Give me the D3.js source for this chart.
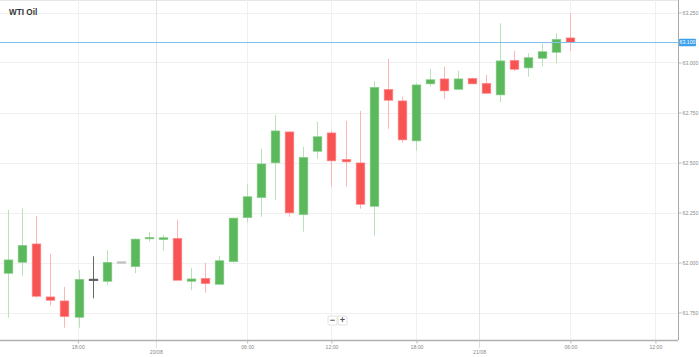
<!DOCTYPE html>
<html>
<head>
<meta charset="utf-8">
<script src="https://cdn.jsdelivr.net/npm/d3@7"></script>
<style>
  html, body { margin: 0; padding: 0; background: #fff; }
  svg { display: block; font-family: "Liberation Sans", Arial, sans-serif; }
</style>
</head>
<body>
<svg id="chart" width="699" height="357"></svg>
<script>
// ---- data (hourly candles, WTI Oil) ----
const opens  = [61.946, 62.001, 62.093, 61.828, 61.808, 61.726, 61.913, 61.906, 62.000, 61.979,
                62.118, 62.114, 62.121, 61.906, 61.921, 61.891, 62.004, 62.224, 62.324, 62.498,
                62.653, 62.239, 62.556, 62.648, 62.516, 62.498, 62.281, 62.866, 62.808, 62.608,
                62.893, 62.918, 62.866, 62.921, 62.896, 62.838, 63.011, 62.973, 63.021, 63.051,
                63.123];
const highs  = [62.263, 62.271, 62.233, 62.043, 61.878, 61.963, 62.031, 62.061, 62.000, 62.120,
                62.154, 62.138, 62.213, 61.973, 61.998, 62.033, 62.224, 62.391, 62.568, 62.738,
                62.655, 62.579, 62.703, 62.658, 62.708, 62.758, 62.908, 63.018, 62.829, 62.898,
                62.968, 62.979, 62.959, 62.925, 62.938, 63.196, 63.058, 63.046, 63.096, 63.146,
                63.246];
const lows   = [61.724, 61.933, 61.824, 61.784, 61.674, 61.674, 61.821, 61.888, 62.000, 61.946,
                62.104, 62.059, 61.910, 61.861, 61.849, 61.890, 61.999, 62.199, 62.229, 62.313,
                62.229, 62.154, 62.519, 62.379, 62.379, 62.269, 62.134, 62.668, 62.599, 62.559,
                62.879, 62.818, 62.866, 62.893, 62.846, 62.801, 62.958, 62.929, 62.981, 62.996,
                63.058];
const closes = [62.013, 62.086, 61.831, 61.811, 61.729, 61.916, 61.913, 62.001, 62.000, 62.117,
                62.126, 62.124, 61.911, 61.918, 61.894, 62.009, 62.222, 62.329, 62.493, 62.658,
                62.248, 62.526, 62.629, 62.508, 62.503, 62.291, 62.876, 62.811, 62.613, 62.888,
                62.914, 62.858, 62.918, 62.893, 62.846, 63.008, 62.966, 63.024, 63.054, 63.116,
                63.100];

// axis ticks (positions in candle-index units)
const timeTickPos    = [4.95, 17, 23, 29.05, 40, 46.05];
const timeTickLabels = ["18:00", "06:00", "12:00", "18:00", "06:00", "12:00"];
const dateTickPos    = [10.5, 33.5];
const dateTickLabels = ["20/08", "21/08"];
const priceTicks     = [61.75, 62.0, 62.25, 62.5, 62.75, 63.0, 63.25];
const title = "WTI Oil";

// ---- layout ----
const svg = d3.select("#chart");
const plotRight = 678, plotBottom = 340;

const x = d3.scaleLinear().domain([-0.59, 47.66]).range([0, plotRight]);
const y = d3.scaleLinear().domain([61.75, 63.25]).range([312.5, 12.5]);
const step = x(1) - x(0);
const bodyW = step * 0.62;

const candles = opens.map((o, i) => ({ i, o, h: highs[i], l: lows[i], c: closes[i] }));

// top border
svg.append("line").attr("x1", 0).attr("x2", plotRight).attr("y1", 0.5).attr("y2", 0.5)
  .attr("stroke", "#e6e6e6");

// horizontal grid
svg.append("g").selectAll("line").data(priceTicks).join("line")
  .attr("x1", 0).attr("x2", plotRight)
  .attr("y1", d => Math.round(y(d)) + 0.5).attr("y2", d => Math.round(y(d)) + 0.5)
  .attr("stroke", "#f0f0f0");

// vertical grid
svg.append("g").selectAll("line").data(timeTickPos).join("line")
  .attr("x1", d => Math.round(x(d)) + 0.5).attr("x2", d => Math.round(x(d)) + 0.5)
  .attr("y1", 0).attr("y2", plotBottom)
  .attr("stroke", "#f0f0f0");
svg.append("g").selectAll("line").data(dateTickPos).join("line")
  .attr("x1", d => Math.round(x(d)) + 0.5).attr("x2", d => Math.round(x(d)) + 0.5)
  .attr("y1", 0).attr("y2", plotBottom)
  .attr("stroke", "#e4e4e4");

// candles
const green = "#5cb85c", greenEdge = "#8ccf8c", greenWick = "#b8e2b8";
const red = "#f95454", redEdge = "#ff8f8f", redWick = "#ffb5b5";
function colors(d) {
  if (d.c > d.o) return { fill: green, edge: greenEdge, wick: greenWick };
  if (d.c < d.o) return { fill: red, edge: redEdge, wick: redWick };
  if (d.h > d.l) return { fill: "#555", edge: "#555", wick: "#666" };
  return { fill: "#c4c4c4", edge: "#c4c4c4", wick: "#c4c4c4" };
}

const g = svg.append("g");
const cg = g.selectAll("g.candle").data(candles).join("g").attr("class", "candle");
cg.append("line")
  .attr("x1", d => Math.round(x(d.i)) + 0.5).attr("x2", d => Math.round(x(d.i)) + 0.5)
  .attr("y1", d => y(d.h)).attr("y2", d => y(d.l))
  .attr("stroke", d => colors(d).wick).attr("stroke-width", 1);
cg.append("rect")
  .attr("x", d => Math.round(x(d.i)) + 0.5 - bodyW / 2)
  .attr("width", bodyW)
  .attr("y", d => {
    const top = y(Math.max(d.o, d.c)), bot = y(Math.min(d.o, d.c));
    return bot - top < 1.6 ? (top + bot) / 2 - 0.8 : top;
  })
  .attr("height", d => Math.max(1.6, y(Math.min(d.o, d.c)) - y(Math.max(d.o, d.c))))
  .attr("fill", d => colors(d).fill)
  .attr("stroke", d => colors(d).edge).attr("stroke-width", 0.6);

// last price line
const last = closes[closes.length - 1];
svg.append("line").attr("x1", 0).attr("x2", plotRight)
  .attr("y1", y(last)).attr("y2", y(last))
  .attr("stroke", "#7fc0ef").attr("stroke-width", 1);

// right axis
const yAxis = d3.axisRight(y).tickValues(priceTicks).tickFormat(d3.format(".3f"))
  .tickSize(3).tickPadding(1);
const ya = svg.append("g").attr("transform", `translate(${plotRight + 0.5},0)`).call(yAxis);
ya.select(".domain").attr("stroke", "#a8a8a8").attr("d", `M0,0V${plotBottom}`);
ya.selectAll(".tick line").attr("stroke", "#bbb");
ya.selectAll(".tick text").attr("fill", "#8a8a8a").attr("font-size", 5.2);

// price label
const pl = svg.append("g").attr("transform", `translate(${plotRight + 1},${y(last)})`);
pl.append("rect").attr("x", 0).attr("y", -3.8).attr("width", 17).attr("height", 7.6)
  .attr("rx", 1).attr("fill", "#3ba1ee");
pl.append("text").attr("x", 8.5).attr("y", 1.9).attr("text-anchor", "middle")
  .attr("fill", "#fff").attr("font-size", 5.2).text(d3.format(".3f")(last));

// bottom axis
const xAxis = d3.axisBottom(x).tickValues(timeTickPos)
  .tickFormat((d, i) => timeTickLabels[i]).tickSize(3).tickPadding(2);
const xa = svg.append("g").attr("transform", `translate(0,${plotBottom + 0.5})`).call(xAxis);
xa.select(".domain").attr("stroke", "#b0b0b0").attr("stroke-width", 1.5).attr("d", `M0,0H${plotRight}`);
xa.selectAll(".tick line").attr("stroke", "#bbb");
xa.selectAll(".tick text").attr("fill", "#8a8a8a").attr("font-size", 5.2);

const xd = svg.append("g").attr("transform", `translate(0,${plotBottom + 0.5})`)
  .call(d3.axisBottom(x).tickValues(dateTickPos).tickFormat((d, i) => dateTickLabels[i])
    .tickSize(8).tickPadding(2));
xd.select(".domain").remove();
xd.selectAll(".tick line").attr("stroke", "#bbb").attr("stroke-dasharray", "1,1");
xd.selectAll(".tick text").attr("fill", "#8a8a8a").attr("font-size", 5.2);

// title
svg.append("text").attr("x", 9).attr("y", 15).attr("font-size", 8.2).attr("font-weight", "bold")
  .attr("fill", "#333").text(title);

// zoom buttons
const zb = svg.append("g").attr("transform", "translate(328,316)");
[["−", 0], ["+", 10]].forEach(([t, dx]) => {
  zb.append("rect").attr("x", dx).attr("y", 0).attr("width", 9).attr("height", 9)
    .attr("rx", 1).attr("fill", "#fff").attr("stroke", "#e2e2e2");
  zb.append("text").attr("x", dx + 4.5).attr("y", 7).attr("text-anchor", "middle")
    .attr("font-size", 9).attr("font-weight", "bold").attr("fill", "#555").text(t);
});
</script>
</body>
</html>
